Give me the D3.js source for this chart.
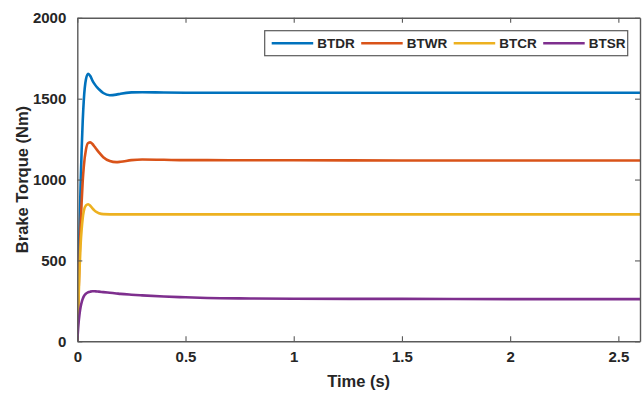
<!DOCTYPE html>
<html>
<head>
<meta charset="utf-8">
<script src="https://cdn.jsdelivr.net/npm/d3@7/dist/d3.min.js"></script>
<style>
  html, body { margin: 0; padding: 0; background: #fff; }
  svg { display: block; }
  text { font-family: "Liberation Sans", Arial, Helvetica, sans-serif; font-weight: bold; fill: #262626; }
</style>
</head>
<body>
<svg id="chart" width="644" height="394"></svg>
<script>
// Simulation time base (s)
const time = [0, 0.005, 0.01, 0.015, 0.02, 0.025, 0.03, 0.04, 0.05, 0.06, 0.07, 0.08, 0.09,
              0.1, 0.12, 0.15, 0.18, 0.2, 0.25, 0.3, 0.4, 0.5, 0.6, 0.8, 1.0, 1.5, 2.0, 2.6];

// Brake torque for each strategy (Nm)
const btdr = [0, 350, 680, 950, 1180, 1360, 1490, 1620, 1654, 1640, 1612, 1590, 1572,
              1558, 1535, 1521, 1525, 1531, 1539, 1540, 1538, 1537, 1537, 1537, 1537, 1537, 1537, 1537];
const btwr = [0, 260, 500, 700, 860, 990, 1080, 1185, 1226, 1230, 1220, 1203, 1185,
              1168, 1138, 1115, 1108, 1110, 1120, 1124, 1122, 1120, 1120, 1119, 1119, 1118, 1118, 1118];
const btcr = [0, 230, 430, 590, 690, 760, 805, 840, 847, 838, 822, 808, 798,
              792, 786, 785, 785, 785, 785, 785, 785, 785, 785, 785, 785, 785, 785, 785];
const btsr = [0, 100, 165, 210, 240, 262, 278, 295, 303, 307, 309, 309, 308,
              307, 304, 300, 296, 293, 288, 284, 277, 272, 268, 265, 263, 262, 261, 261];

const seriesNames = ["BTDR", "BTWR", "BTCR", "BTSR"];
const seriesValues = [btdr, btwr, btcr, btsr];
const seriesColors = ["#0072BD", "#D95319", "#EDB120", "#7E2F8E"];

const xTicks = [0, 0.5, 1, 1.5, 2, 2.5];
const yTicks = [0, 500, 1000, 1500, 2000];

const margin = { left: 77.3, right: 4, top: 17.8, bottom: 52.7 };
const W = 644, H = 394;
const svg = d3.select("#chart");

const x = d3.scaleLinear().domain([0, 2.6]).range([margin.left, W - margin.right]);
const y = d3.scaleLinear().domain([0, 2000]).range([H - margin.bottom, margin.top]);

const axisColor = "#5a5a5a";
const tickLen = 5;

// Clip curves to the plot area
svg.append("clipPath").attr("id", "plotClip")
  .append("rect")
  .attr("x", x(0)).attr("y", y(2000))
  .attr("width", x(2.6) - x(0)).attr("height", y(0) - y(2000));

const line = d3.line()
  .x((d, i) => x(time[i]))
  .y(d => y(d))
  .curve(d3.curveMonotoneX);

const curves = svg.append("g").attr("clip-path", "url(#plotClip)");
seriesValues.forEach((vals, k) => {
  curves.append("path")
    .attr("d", line(vals))
    .attr("fill", "none")
    .attr("stroke", seriesColors[k])
    .attr("stroke-width", 2.6)
    .attr("stroke-linejoin", "round");
});

// Axes with inward ticks on all four sides
function styleAxis(g) {
  g.select(".domain").attr("stroke", axisColor).attr("stroke-width", 1.4);
  g.selectAll(".tick line").attr("stroke", axisColor).attr("stroke-width", 1.1);
  g.selectAll(".tick text")
    .attr("font-size", 15)
    .attr("font-family", "'Liberation Sans', Arial, sans-serif")
    .attr("font-weight", "bold")
    .attr("fill", "#262626");
}

svg.append("g")
  .attr("transform", `translate(0,${y(0)})`)
  .call(d3.axisBottom(x).tickValues(xTicks).tickFormat(d3.format("")).tickSizeInner(-tickLen).tickSizeOuter(0).tickPadding(10))
  .call(styleAxis);

svg.append("g")
  .attr("transform", `translate(0,${y(2000)})`)
  .call(d3.axisTop(x).tickValues(xTicks).tickFormat("").tickSizeInner(-tickLen).tickSizeOuter(0))
  .call(styleAxis);

svg.append("g")
  .attr("transform", `translate(${x(0)},0)`)
  .call(d3.axisLeft(y).tickValues(yTicks).tickFormat(d3.format("")).tickSizeInner(-tickLen).tickSizeOuter(0).tickPadding(11))
  .call(styleAxis);

svg.append("g")
  .attr("transform", `translate(${x(2.6)},0)`)
  .call(d3.axisRight(y).tickValues(yTicks).tickFormat("").tickSizeInner(-tickLen).tickSizeOuter(0))
  .call(styleAxis);

// Axis titles
svg.append("text")
  .attr("x", (x(0) + x(2.6)) / 2)
  .attr("y", 386.7)
  .attr("text-anchor", "middle")
  .attr("font-size", 16.5)
  .text("Time (s)");

svg.append("text")
  .attr("transform", `translate(28,${(y(0) + y(2000)) / 2}) rotate(-90)`)
  .attr("text-anchor", "middle")
  .attr("font-size", 16.5)
  .text("Brake Torque (Nm)");

// Legend
const legend = svg.append("g");
legend.append("rect")
  .attr("x", 264.7).attr("y", 30.7)
  .attr("width", 363).attr("height", 25)
  .attr("fill", "#fff")
  .attr("stroke", axisColor)
  .attr("stroke-width", 1.2);

let cx = 271.7;
const legY = 43.2;
seriesNames.forEach((name, k) => {
  legend.append("line")
    .attr("x1", cx).attr("x2", cx + 41.5)
    .attr("y1", legY).attr("y2", legY)
    .attr("stroke", seriesColors[k])
    .attr("stroke-width", 2.6);
  const t = legend.append("text")
    .attr("x", cx + 45.5)
    .attr("y", legY + 4.8)
    .attr("font-size", 13.5)
    .text(name);
  cx = cx + 45.5 + t.node().getComputedTextLength() + 6.5;
});
</script>
</body>
</html>
